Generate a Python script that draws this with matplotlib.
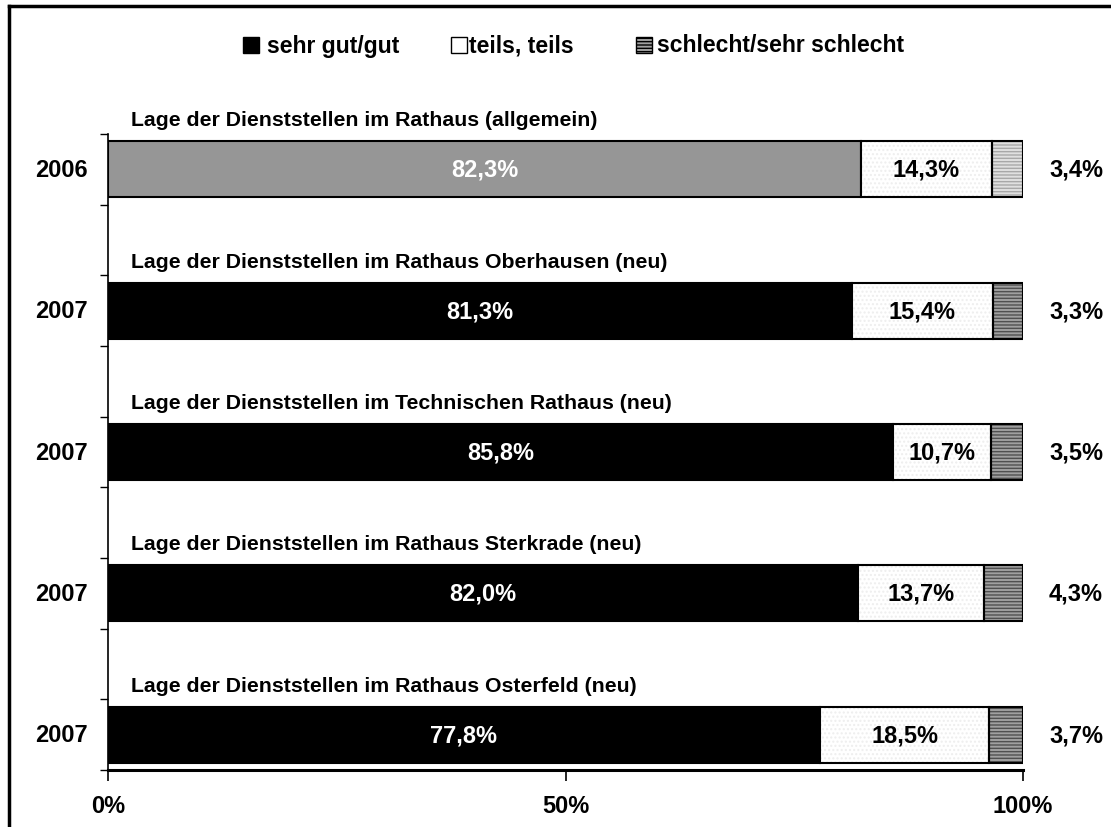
import matplotlib
matplotlib.use("Agg")
import matplotlib.pyplot as plt
from matplotlib.patches import Rectangle
from matplotlib.lines import Line2D
import numpy as np

plt.rcParams['font.family'] = ['Liberation Sans', 'DejaVu Sans']
plt.rcParams['hatch.linewidth'] = 1.0

years = ["2006", "2007", "2007", "2007", "2007"]
titles = [
    "Lage der Dienststellen im Rathaus (allgemein)",
    "Lage der Dienststellen im Rathaus Oberhausen (neu)",
    "Lage der Dienststellen im Technischen Rathaus (neu)",
    "Lage der Dienststellen im Rathaus Sterkrade (neu)",
    "Lage der Dienststellen im Rathaus Osterfeld (neu)",
]
gut = [82.3, 81.3, 85.8, 82.0, 77.8]
teils = [14.3, 15.4, 10.7, 13.7, 18.5]
schlecht = [3.4, 3.3, 3.5, 4.3, 3.7]
legend_labels = ["sehr gut/gut", "teils, teils", "schlecht/sehr schlecht"]
xtick_labels = ["0%", "50%", "100%"]

W, H = 1111, 828
fig = plt.figure(figsize=(W/100, H/100), dpi=100)
ax = fig.add_axes([108/W, 1-771/H, (1023-108)/W, (771-135)/H])

pos = np.arange(len(gut)) * 2
h = 0.79
fmt = lambda v: f"{v:.1f}%".replace(".", ",")
NUM = 17
TIT = 15.3

for i, p in enumerate(pos):
    first = (i == 0)
    c_gut = "#969696" if first else "#000000"
    ax.barh(p, gut[i], height=h, color=c_gut, edgecolor="black", linewidth=1.5, zorder=3)
    ax.barh(p, teils[i], left=gut[i], height=h, color="white", edgecolor="#eeeeee",
            hatch="....", linewidth=0, zorder=3)
    ax.barh(p, teils[i], left=gut[i], height=h, color="none", edgecolor="black",
            linewidth=1.5, zorder=4)
    c_s = "#e0e0e0" if first else "#a0a0a0"
    hc = "#a8a8a8" if first else "#505050"
    ax.barh(p, schlecht[i], left=gut[i]+teils[i], height=h, color=c_s, edgecolor=hc,
            hatch="-----", linewidth=0, zorder=3)
    ax.barh(p, schlecht[i], left=gut[i]+teils[i], height=h, color="none", edgecolor="black",
            linewidth=1.5, zorder=4)
    ax.text(gut[i]/2, p, fmt(gut[i]), color="white", ha="center", va="center",
            fontsize=NUM, fontweight="bold", zorder=5)
    ax.text(gut[i] + teils[i]/2, p, fmt(teils[i]), color="black", ha="center", va="center",
            fontsize=NUM, fontweight="bold", zorder=5)
    ax.text(105.8, p, fmt(schlecht[i]), color="black", ha="center", va="center",
            fontsize=NUM, fontweight="bold", clip_on=False)
    ax.text(-5.1, p, years[i], color="black", ha="center", va="center",
            fontsize=NUM, fontweight="bold", clip_on=False)
    ax.text(2.5, p - 0.7, titles[i], color="black", ha="left", va="center",
            fontsize=TIT, fontweight="bold", clip_on=False)

ax.set_xlim(0, 100)
ax.set_ylim(8.5, -0.5)
ax.set_yticks(np.arange(-0.5, 9.0, 1.0))
ax.set_yticklabels([])
ax.tick_params(axis="y", direction="out", length=6, width=1, color="black")
ax.set_xticks([0, 50, 100])
ax.set_xticklabels(xtick_labels, fontsize=NUM, fontweight="bold")
ax.tick_params(axis="x", direction="out", length=8, width=1.2, pad=9)
for s in ["top", "right"]:
    ax.spines[s].set_visible(False)
ax.spines["left"].set_linewidth(1.2)
ax.spines["bottom"].set_linewidth(2.2)

# legend drawn manually in figure pixel positions
LEG = 16.5
sq = 16
leg_y = 46
sq_x = [243, 451, 636]
tx_x = [267, 469, 657]
sq_style = [
    dict(facecolor="black", edgecolor="black"),
    dict(facecolor="white", edgecolor="black"),
    dict(facecolor="#a0a0a0", edgecolor="black", hatch="-----"),
]
for k in range(3):
    r = Rectangle((sq_x[k]/W, 1-(leg_y+sq/2)/H), sq/W, sq/H, transform=fig.transFigure,
                  linewidth=1, **sq_style[k])
    fig.add_artist(r)
    fig.text(tx_x[k]/W, 1-leg_y/H, legend_labels[k], ha="left", va="center",
             fontsize=LEG, fontweight="bold")

# figure border (top & left visible)
fig.add_artist(Line2D([9/W, 1.0], [1-7/H, 1-7/H], color="black", lw=2.5,
                      transform=fig.transFigure))
fig.add_artist(Line2D([9/W, 9/W], [0, 1-7/H], color="black", lw=2.5,
                      transform=fig.transFigure))

fig.savefig("out.png", dpi=100)
